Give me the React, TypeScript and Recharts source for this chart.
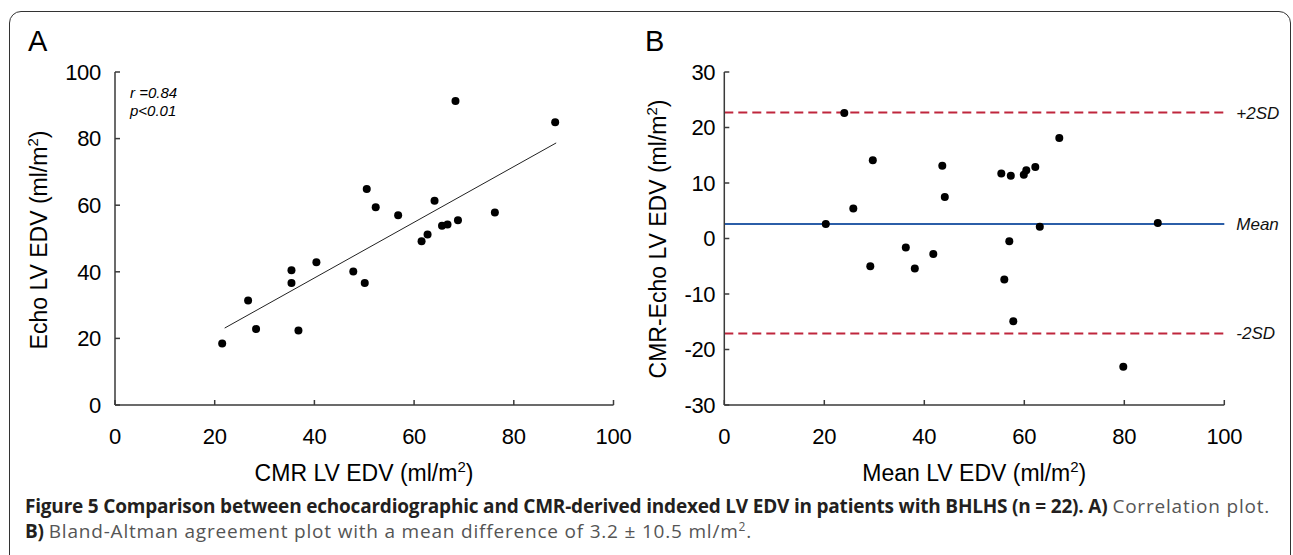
import { ScatterChart, Scatter, XAxis, YAxis, ReferenceLine } from 'recharts';

// Panel A: CMR vs echo indexed LV EDV (ml/m2)
const cmrEdv = [21.5, 26.7, 28.3, 35.4, 35.4, 36.8, 40.4, 47.8, 50.1, 50.5, 52.3, 56.8, 61.5, 62.7, 64.1, 65.6, 66.7, 68.8, 68.3, 76.2, 88.3];
const echoEdv = [18.5, 31.4, 22.8, 40.5, 36.6, 22.4, 42.9, 40.1, 36.6, 64.9, 59.4, 57.0, 49.2, 51.2, 61.3, 53.8, 54.2, 55.5, 91.3, 57.8, 84.9];
const fitStart = { x: 22, y: 23.1 };
const fitEnd = { x: 88.5, y: 78.7 };

// Panel B: Bland-Altman
const meanEdv = [20.3, 24.0, 25.8, 29.2, 29.7, 36.3, 38.1, 41.8, 43.6, 44.1, 55.4, 56.0, 57.0, 57.3, 57.8, 59.9, 60.4, 62.2, 63.1, 67.0, 79.8, 86.7];
const diffEdv = [2.6, 22.6, 5.4, -5.0, 14.1, -1.6, -5.4, -2.8, 13.1, 7.5, 11.7, -7.4, -0.5, 11.3, -14.9, 11.5, 12.3, 12.9, 2.1, 18.1, -23.1, 2.8];
const limitNames = ['+2SD', 'Mean', '-2SD'];
const limitValues = [22.7, 2.6, -17.1];

const xTicks = [0, 20, 40, 60, 80, 100];
const yTicksA = [0, 20, 40, 60, 80, 100];
const yTicksB = [-30, -20, -10, 0, 10, 20, 30];

const corrData = cmrEdv.map((x, i) => ({ x, y: echoEdv[i] }));
const baData = meanEdv.map((x, i) => ({ x, y: diffEdv[i] }));

const AXIS = '#3a3a3a';
const tickStyle = { fontSize: 22, fill: '#000', letterSpacing: -0.3 };

const dot = (p: any) => <circle cx={p.cx} cy={p.cy} r={4} fill="#000" />;

// axis titles with a superscript 2
const unitTitle = (text: string, x: number, y: number, rotate: boolean) => () => (
  <text
    x={x}
    y={y}
    textAnchor="middle"
    fontSize={23}
    fill="#000"
    transform={rotate ? `rotate(-90 ${x} ${y})` : undefined}
  >
    {text} (ml/m
    <tspan dy={-9} fontSize={15}>2</tspan>
    <tspan dy={9}>)</tspan>
  </text>
);

const limitColor = (name: string) => (name === 'Mean' ? '#2b5ea8' : '#bf263d');

const bold = { color: '#231f20', letterSpacing: -0.2 };
const plain = { letterSpacing: 0.8 };

export default function App() {
  return (
    <div
      style={{
        position: 'absolute',
        left: 0,
        top: 0,
        width: 1293,
        height: 555,
        overflow: 'hidden',
        background: '#fff',
        fontFamily: '"Liberation Sans", Arial, sans-serif',
      }}
    >
      <div
        style={{
          position: 'absolute',
          left: 9,
          top: 11,
          width: 1280,
          height: 600,
          border: '1.5px solid #333',
          borderRadius: 12,
        }}
      />

      <div style={{ position: 'absolute', left: 28, top: 25, fontSize: 29, lineHeight: '32px' }}>A</div>
      <div style={{ position: 'absolute', left: 645, top: 25, fontSize: 29, lineHeight: '32px' }}>B</div>

      <div style={{ position: 'absolute', left: 0, top: 0 }}>
        <ScatterChart width={640} height={500} margin={{ top: 72, right: 26.5, bottom: 55, left: 35 }}>
          <XAxis
            type="number"
            dataKey="x"
            domain={[0, 100]}
            ticks={xTicks}
            height={40}
            tickSize={-5}
            tickMargin={28}
            tick={tickStyle}
            stroke={AXIS}
            strokeWidth={1.5}
            label={unitTitle('CMR LV EDV', 364, 481, false)}
          />
          <YAxis
            type="number"
            dataKey="y"
            domain={[0, 100]}
            ticks={yTicksA}
            width={80}
            tickSize={-5}
            tickMargin={19}
            tick={tickStyle}
            stroke={AXIS}
            strokeWidth={1.5}
            label={unitTitle('Echo LV EDV', 47, 240, true)}
          />
          <ReferenceLine segment={[fitStart, fitEnd]} stroke="#222" strokeWidth={1} />
          <Scatter data={corrData} shape={dot} isAnimationActive={false} />
        </ScatterChart>
      </div>

      <div style={{ position: 'absolute', left: 130, top: 84, fontSize: 15, fontStyle: 'italic', lineHeight: '18px' }}>
        <div>r =0.84</div>
        <div>p&lt;0.01</div>
      </div>

      <div style={{ position: 'absolute', left: 640, top: 0 }}>
        <ScatterChart width={653} height={500} margin={{ top: 72, right: 68.7, bottom: 55, left: 14.3 }}>
          <XAxis
            type="number"
            dataKey="x"
            domain={[0, 100]}
            ticks={xTicks}
            height={40}
            tickSize={-5}
            tickMargin={28}
            tick={tickStyle}
            stroke={AXIS}
            strokeWidth={1.5}
            label={unitTitle('Mean LV EDV', 334.3, 481, false)}
          />
          <YAxis
            type="number"
            dataKey="y"
            domain={[-30, 30]}
            ticks={yTicksB}
            width={70}
            tickSize={-5}
            tickMargin={14}
            tick={tickStyle}
            stroke={AXIS}
            strokeWidth={1.5}
            label={unitTitle('CMR-Echo LV EDV', 25.5, 239, true)}
          />
          {limitNames.map((name, i) => (
            <ReferenceLine
              key={name}
              y={limitValues[i]}
              stroke={limitColor(name)}
              strokeWidth={2}
              strokeDasharray={name === 'Mean' ? undefined : '9 5'}
              label={{ value: name, position: 'right', offset: 12, fontSize: 17, fontStyle: 'italic', fill: '#111' }}
            />
          ))}
          <Scatter data={baData} shape={dot} isAnimationActive={false} />
        </ScatterChart>
      </div>

      <div
        style={{
          position: 'absolute',
          left: 25,
          top: 494,
          fontFamily: '"Open Sans", sans-serif',
          fontSize: 19,
          lineHeight: '25px',
          color: '#555',
          whiteSpace: 'nowrap',
        }}
      >
        <div>
          <b style={bold}>
            Figure 5 Comparison between echocardiographic and CMR-derived indexed LV EDV in patients with BHLHS (n = 22). A)
          </b>{' '}
          <span style={plain}>Correlation plot.</span>
        </div>
        <div>
          <b style={bold}>B)</b>{' '}
          <span style={plain}>
            Bland-Altman agreement plot with a mean difference of 3.2 ± 10.5 ml/m
            <sup style={{ fontSize: 12, lineHeight: 0 }}>2</sup>.
          </span>
        </div>
      </div>
    </div>
  );
}
